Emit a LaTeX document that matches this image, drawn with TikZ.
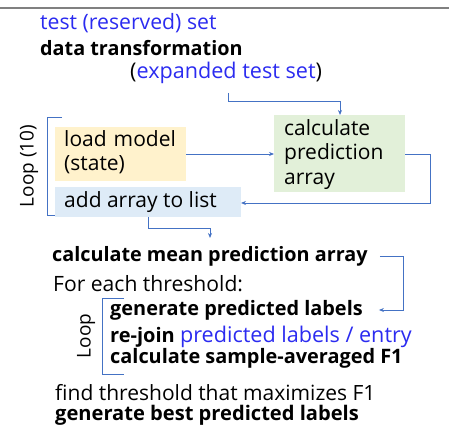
\documentclass[tikz,border=0pt]{standalone}
\usepackage{fontspec}
\setmainfont{Open Sans}
\usetikzlibrary{arrows.meta}
\definecolor{txtblue}{HTML}{2B2BF0}
\definecolor{lnblue}{HTML}{4472C4}
\definecolor{boxyellow}{HTML}{FFF2CC}
\definecolor{boxgreen}{HTML}{E2F0D9}
\definecolor{boxblue}{HTML}{DEEBF7}
\begin{document}
\begin{tikzpicture}[x=1pt,y=-1pt,
    txt/.style={anchor=west,inner sep=0pt,font=\fontsize{#1}{#1}\selectfont},
    bld/.style={anchor=west,inner sep=0pt,font=\fontsize{#1}{#1}\selectfont\bfseries},
    box/.style={anchor=north west,inner sep=0pt,align=left,text width=125pt,font=\fontsize{21}{24.5}\selectfont},
    arr/.style={lnblue,line width=0.8pt,-{Stealth[length=5pt,width=4pt]}},
    brk/.style={lnblue,line width=0.8pt}]
	\useasboundingbox (0,0) rectangle (449,430);
	\draw[gray,line width=1.6pt] (0,8) -- (449,8);
	% header lines
	\node[txt=21.2,text=txtblue] (test) at (40,23) {test (reserved) set};
	\node[bld=19.8] (trans) at (40,48) {data transformation};
	\node[txt=21.6] (exp) at (130,73) {(\textcolor{txtblue}{expanded test set})};
	% loop boxes
	\fill[boxyellow] (55,127) rectangle (186,181);
	\node[box] (load) at (64,130) {load model\\(state)};
	\fill[boxgreen] (274,115) rectangle (405,192);
	\node[box] (calc) at (284,119) {calculate\\prediction\\array};
	\fill[boxblue] (55,187) rectangle (241,217);
	\node[txt=21] (add) at (64,202) {add array to list};
	\draw[brk] (62,117) -- (47,117) -- (47,215) -- (55,215);
	\node[rotate=90,font=\fontsize{19}{19}\selectfont] (loopa) at (29,166) {Loop (10)};
	\coordinate (expS) at (228,93);
	\coordinate (loadE) at (186,154);
	\coordinate (calcN) at (340,115);
	\coordinate (calcW) at (274,154);
	\coordinate (calcE) at (405,154);
	\coordinate (addE) at (241,203);
	\coordinate (addS) at (148,217);
	\draw[arr] (expS) -- ++(0,8) -| (calcN);
	\draw[arr] (loadE) -- (calcW);
	\draw[arr] (calcE) -- ++(25,0) |- (addE);
	% threshold part
	\node[bld=19.8] (mean) at (52,256) {calculate mean prediction array};
	\node[txt=21.1] (each) at (53,284) {For each threshold:};
	\node[bld=19.9] (gen) at (110,310) {generate predicted labels};
	\node[bld=20] (join) at (110,337) {re-join \textcolor{txtblue}{\fontsize{21.6}{21.6}\selectfont\mdseries predicted labels / entry}};
	\node[bld=19.9] (fone) at (110,358) {calculate sample-averaged F1};
	\draw[brk] (124,298) -- (102,298) -- (102,374) -- (124,374);
	\node[rotate=90,font=\fontsize{19}{19}\selectfont] (loopb) at (86,336) {Loop};
	\node[txt=21] (find) at (55,393) {find threshold that maximizes F1};
	\node[bld=20.1] (best) at (55,415) {generate best predicted labels};
	\draw[arr] (addS) -- ++(0,11) -| (210,238);
	\draw[arr] ([xshift=12pt]mean.east) -- (403,256) |- ([xshift=16pt]gen.east);
\end{tikzpicture}
\end{document}
